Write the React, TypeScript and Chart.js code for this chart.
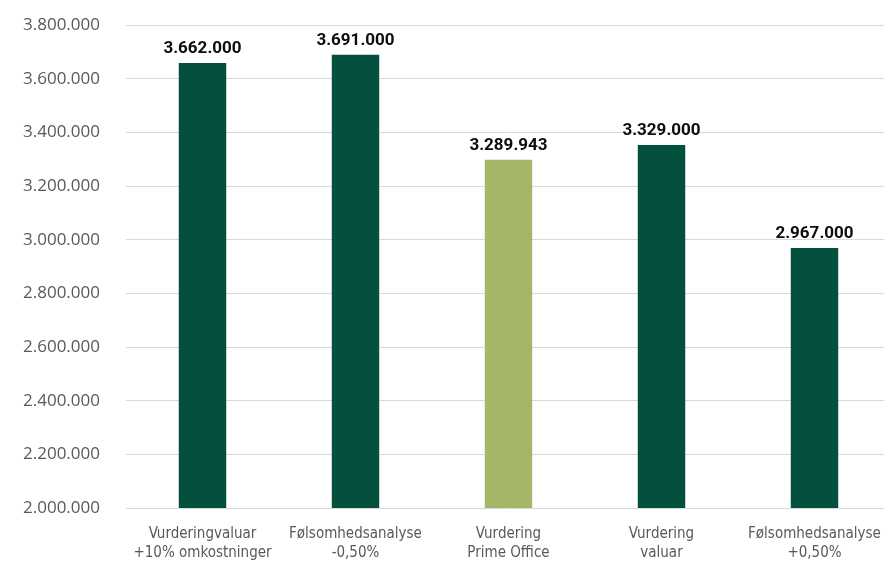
import React, { useEffect, useRef } from "react";
import { Chart, registerables } from "chart.js";

Chart.register(...registerables);

const categories: string[][] = [
  ["Vurderingvaluar", "+10% omkostninger"],
  ["Følsomhedsanalyse", "-0,50%"],
  ["Vurdering", "Prime Office"],
  ["Vurdering", "valuar"],
  ["Følsomhedsanalyse", "+0,50%"],
];
const barValues: number[] = [3658000, 3689000, 3298000, 3353000, 2969000];
const labelValues: number[] = [3662000, 3691000, 3289943, 3329000, 2967000];
const barColors: string[] = ["#03503f", "#03503f", "#a3b767", "#03503f", "#03503f"];
const yMin = 2000000;
const yMax = 3800000;
const yStep = 200000;

const fmt = (v: number) => String(Math.round(v)).replace(/\B(?=(\d{3})+(?!\d))/g, ".");

const labelPlugin = {
  id: "barLabels",
  afterDatasetsDraw(chart: any) {
    const ctx = chart.ctx;
    const meta = chart.getDatasetMeta(0);
    ctx.save();
    ctx.font = "bold 17px Roboto, 'Noto Sans', sans-serif";
    ctx.fillStyle = "#0d0d0d";
    ctx.textAlign = "center";
    ctx.textBaseline = "alphabetic";
    meta.data.forEach((bar: any, i: number) => {
      ctx.fillText(fmt(labelValues[i]), bar.x, bar.y - 10);
    });
    ctx.restore();
  },
};

export default function App() {
  const ref = useRef<HTMLCanvasElement | null>(null);
  useEffect(() => {
    if (!ref.current) return;
    const chart = new Chart(ref.current, {
      type: "bar",
      data: {
        labels: categories,
        datasets: [
          {
            data: barValues,
            backgroundColor: barColors,
            borderWidth: 0,
            categoryPercentage: 1,
            barPercentage: 0.31,
          },
        ],
      },
      options: {
        animation: false,
        responsive: false,
        maintainAspectRatio: false,
        layout: { padding: { top: 25, right: 9, left: 0, bottom: 0 } },
        plugins: { legend: { display: false }, tooltip: { enabled: false } },
        scales: {
          x: {
            grid: { display: false },
            border: { display: false },
            ticks: {
              color: "#595959",
              font: { family: "'Liberation Sans Narrow', 'DejaVu Sans Condensed', 'Open Sans', sans-serif", size: 15, lineHeight: 1.3 },
              padding: 8,
              maxRotation: 0,
              autoSkip: false,
            },
            afterFit: (s: any) => {
              s.height = 54;
              s.paddingLeft = 0;
              s.paddingRight = 0;
            },
          },
          y: {
            min: yMin,
            max: yMax,
            grid: { color: "#d9d9d9", lineWidth: 1, drawTicks: false },
            border: { display: false },
            ticks: {
              stepSize: yStep,
              color: "#595959",
              font: { family: "'Open Sans', sans-serif", size: 17 },
              padding: 26,
              callback: (v: any) => fmt(Number(v)),
            },
            afterFit: (s: any) => {
              s.width = 126;
              s.paddingTop = 0;
              s.paddingBottom = 0;
            },
          },
        },
      },
      plugins: [labelPlugin],
    });
    return () => chart.destroy();
  }, []);
  return (
    <div style={{ position: "absolute", left: 0, top: 0, width: 884, height: 562, overflow: "hidden", background: "#fff" }}>
      <canvas ref={ref} width={900} height={562} style={{ width: 900, height: 562, display: "block" }} />
    </div>
  );
}
